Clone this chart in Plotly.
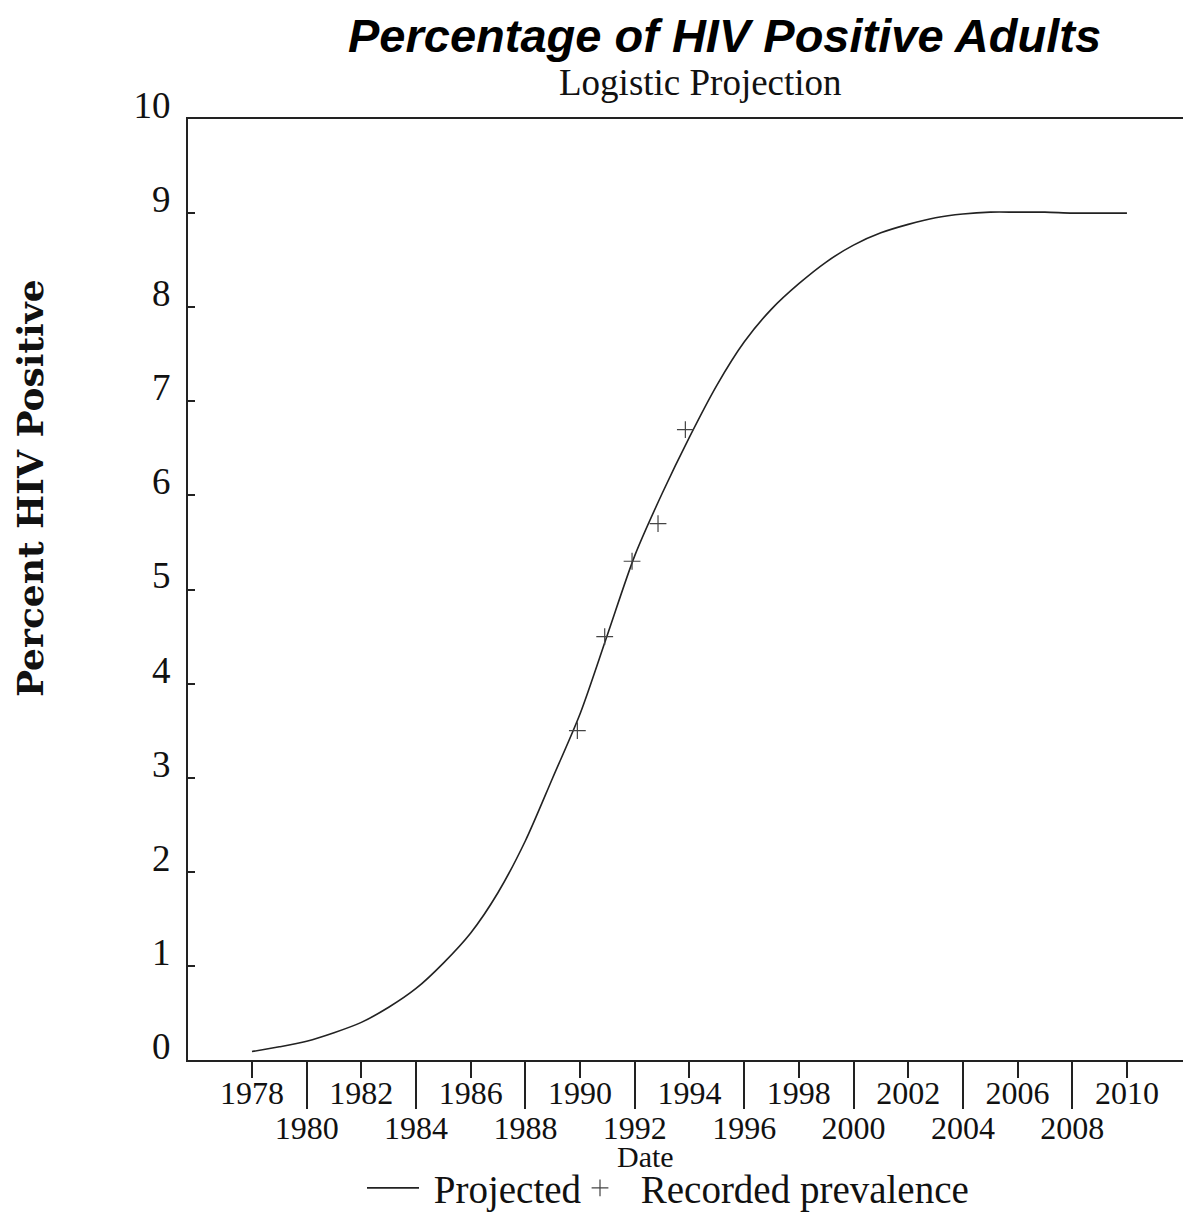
import plotly.graph_objects as go

# Projected logistic curve (one value per year)
years = list(range(1978, 2011))
projected = [0.09, 0.14, 0.20, 0.29, 0.40, 0.56, 0.76, 1.03, 1.35, 1.78,
             2.33, 3.00, 3.68, 4.52, 5.36, 6.02, 6.62, 7.17, 7.63, 7.98,
             8.25, 8.48, 8.66, 8.79, 8.88, 8.95, 8.99, 9.01, 9.01, 9.01,
             9.00, 9.00, 9.00]

# Recorded prevalence points
rec_years = [1989.9, 1990.9, 1991.9, 1992.85, 1993.85]
rec_values = [3.5, 4.5, 5.3, 5.7, 6.7]

upper_ticks = [1978, 1982, 1986, 1990, 1994, 1998, 2002, 2006, 2010]
lower_ticks = [1980, 1984, 1988, 1992, 1996, 2000, 2004, 2008]
y_ticks = list(range(0, 11))

W, H = 1183, 1220
L, R, T, B = 188, 0, 119, 155
xr = [1975.66, 2012.05]

serif = "Liberation Serif, Times New Roman, serif"
NB = "\u00a0"

fig = go.Figure()
fig.add_trace(go.Scatter(x=years, y=projected, mode="lines", name=NB + "Projected",
                         legend="legend",
                         line=dict(color="#222", width=1.6, shape="spline",
                                   smoothing=0.8)))
fig.add_trace(go.Scatter(x=rec_years, y=rec_values, mode="markers",
                         name=NB + "Recorded prevalence", legend="legend2",
                         marker=dict(symbol="cross-thin", size=12,
                                     line=dict(color="#444", width=1.2))))
fig.add_trace(go.Scatter(x=[None], y=[None], xaxis="x2", yaxis="y",
                         showlegend=False, hoverinfo="skip"))

pw = W - L - R
ph = H - T - B
leg_y = (1065 - 1194) / ph

fig.update_layout(
    width=W, height=H,
    margin=dict(l=L, r=R, t=T, b=B),
    paper_bgcolor="white", plot_bgcolor="white",
    showlegend=True,
    legend=dict(orientation="h", x=(362 - L) / pw, xanchor="left",
                y=leg_y, yanchor="middle",
                font=dict(family=serif, size=39, color="#111"),
                bgcolor="rgba(0,0,0,0)", itemwidth=52),
    legend2=dict(orientation="h", x=(569 - L) / pw, xanchor="left",
                 y=leg_y, yanchor="middle",
                 font=dict(family=serif, size=39, color="#111"),
                 bgcolor="rgba(0,0,0,0)", itemwidth=52),
    xaxis=dict(range=xr, tickmode="array", tickvals=upper_ticks,
               ticktext=[str(v) for v in upper_ticks],
               ticks="outside", ticklen=16, tickwidth=1.5, tickcolor="#222",
               showline=True, linecolor="#222", linewidth=2, mirror=True,
               showgrid=False, zeroline=False, ticklabelstandoff=-12,
               tickfont=dict(family=serif, size=32, color="#111")),
    xaxis2=dict(range=xr, overlaying="x", anchor="y", side="bottom",
                tickmode="array", tickvals=lower_ticks,
                ticktext=[str(v) for v in lower_ticks],
                ticks="outside", ticklen=48, tickwidth=1.5, tickcolor="#222",
                showline=False, showgrid=False, zeroline=False,
                ticklabelstandoff=-8,
                tickfont=dict(family=serif, size=32, color="#111")),
    yaxis=dict(range=[0, 10], tickmode="array", tickvals=y_ticks,
               ticks="inside", ticklen=7, tickwidth=1.5, tickcolor="#222",
               showline=True, linecolor="#222", linewidth=2,
               showgrid=False, zeroline=False, ticklabelshift=-14,
               ticklabelstandoff=8,
               tickfont=dict(family=serif, size=37, color="#111")),
)

fig.add_annotation(text="<b><i>Percentage of HIV Positive Adults</i></b>",
                   xref="paper", yref="paper", x=(724 - L) / pw,
                   y=(1065 - 35) / ph, xanchor="center", yanchor="middle",
                   showarrow=False,
                   font=dict(family="Liberation Sans, Arial, sans-serif",
                             size=47, color="#000"))
fig.add_annotation(text="Logistic Projection",
                   xref="paper", yref="paper", x=(700 - L) / pw,
                   y=(1065 - 82) / ph, xanchor="center", yanchor="middle",
                   showarrow=False, font=dict(family=serif, size=37, color="#111"))
fig.add_annotation(text="Date",
                   xref="paper", yref="paper", x=(645 - L) / pw,
                   y=(1065 - 1162) / ph, xanchor="center", yanchor="middle",
                   showarrow=False, font=dict(family=serif, size=30, color="#111"))
fig.add_annotation(text="<b>Percent HIV Positive</b>",
                   xref="paper", yref="paper", x=(30 - L) / pw,
                   y=(1065 - 490) / ph, xanchor="center", yanchor="middle",
                   textangle=-90, showarrow=False,
                   font=dict(family="DejaVu Serif, serif", size=36, color="#111"))

fig.write_html("out.html", config={"displayModeBar": False},
               post_script="document.body.style.margin='0';")
